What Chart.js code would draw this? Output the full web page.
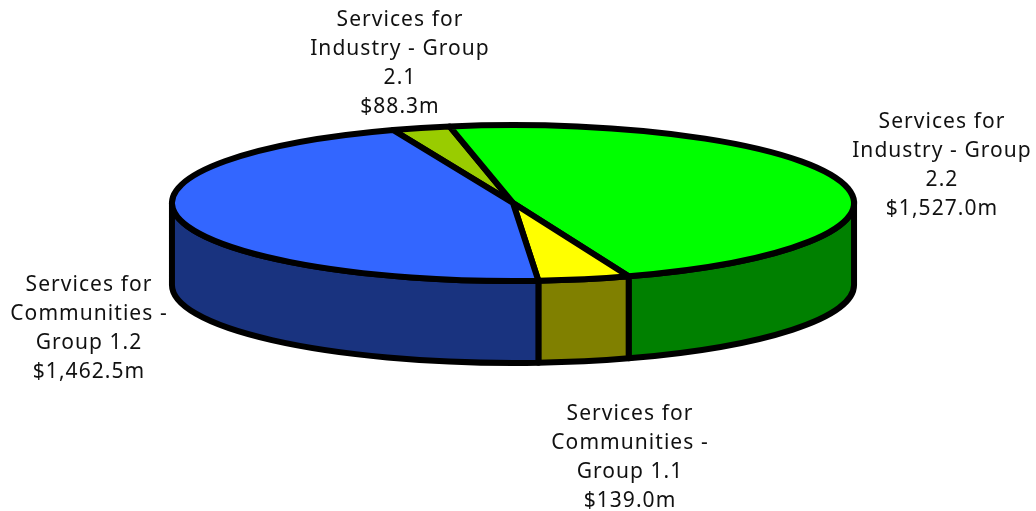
<!DOCTYPE html>
<html>
<head>
<meta charset="utf-8">
<title>Services by group</title>
<script src="https://cdn.jsdelivr.net/npm/chart.js@4"></script>
<style>
    body { margin: 0; background: #fff; }
    canvas { display: block; }
</style>
</head>
<body>
<canvas id="chart" width="1036" height="511"></canvas>
<script>
const groups = ["Services for Industry - Group 2.1", "Services for Industry - Group 2.2", "Services for Communities - Group 1.1", "Services for Communities - Group 1.2"]
const spend = [88.3, 1527.0, 139.0, 1462.5]
const topColors = ["#99cc00", "#00ff00", "#ffff00", "#3366ff"]
const sideColors = ["#667f00", "#008000", "#808000", "#19337f"]

// wrapped label lines, and where the middle of each block sits
const labelLines = [
    ["Services for", "Industry - Group", "2.1", "$88.3m"],
    ["Services for", "Industry - Group", "2.2", "$1,527.0m"],
    ["Services for", "Communities -", "Group 1.1", "$139.0m"],
    ["Services for", "Communities -", "Group 1.2", "$1,462.5m"]
]
const labelCenters = [[400, 20], [942, 122], [630, 414], [89, 285]]

// the flat pie gets squashed into a tilted disc
const stretchX = 1.68
const stretchY = 0.384
const depth = 82

const disc3d = {
    id: "disc3d",

    // the plugin paints the slices itself from the arc geometry
    beforeDatasetDraw(chart) {
        const ctx = chart.ctx
        const arcs = chart.getDatasetMeta(0).data

        ctx.save()
        ctx.strokeStyle = "#000"
        ctx.lineWidth = 6
        ctx.lineJoin = "round"

        // walls, only the part of each slice that faces the viewer
        arcs.forEach((arc, i) => {
            const rx = arc.outerRadius * stretchX
            const ry = arc.outerRadius * stretchY
            const from = Math.max(arc.startAngle, 0)
            const to = Math.min(arc.endAngle, Math.PI)
            if (to <= from) return

            ctx.beginPath()
            ctx.ellipse(arc.x, arc.y, rx, ry, 0, from, to)
            ctx.ellipse(arc.x, arc.y + depth, rx, ry, 0, to, from, true)
            ctx.closePath()
            ctx.fillStyle = sideColors[i]
            ctx.fill()
            ctx.stroke()
        })

        // top face
        arcs.forEach(arc => {
            const rx = arc.outerRadius * stretchX
            const ry = arc.outerRadius * stretchY

            ctx.beginPath()
            ctx.moveTo(arc.x, arc.y)
            ctx.ellipse(arc.x, arc.y, rx, ry, 0, arc.startAngle, arc.endAngle)
            ctx.closePath()
            ctx.fillStyle = arc.options.backgroundColor
            ctx.fill()
            ctx.stroke()
        })

        ctx.restore()
        return false
    },

    afterDraw(chart) {
        const ctx = chart.ctx
        ctx.save()
        ctx.fillStyle = "#111"
        ctx.font = '21px "Noto Sans"'
        ctx.letterSpacing = "1.05px"
        ctx.textAlign = "center"
        ctx.textBaseline = "middle"
        labelLines.forEach((lines, i) => {
            lines.forEach((line, j) => {
                ctx.fillText(line, labelCenters[i][0], labelCenters[i][1] + j * 29)
            })
        })
        ctx.restore()
    }
}

new Chart(document.getElementById("chart").getContext("2d"), {
    type: "pie",

    data: {
        labels: groups,
        datasets: [{
            data: spend,
            backgroundColor: topColors,
            borderWidth: 0
        }]
    },

    options: {
        responsive: false,
        animation: false,
        rotation: -20.6,
        layout: {
            padding: { right: 10, bottom: 105 }
        },
        plugins: {
            legend: { display: false },
            tooltip: { enabled: false }
        }
    },

    plugins: [disc3d]
})
</script>
</body>
</html>
